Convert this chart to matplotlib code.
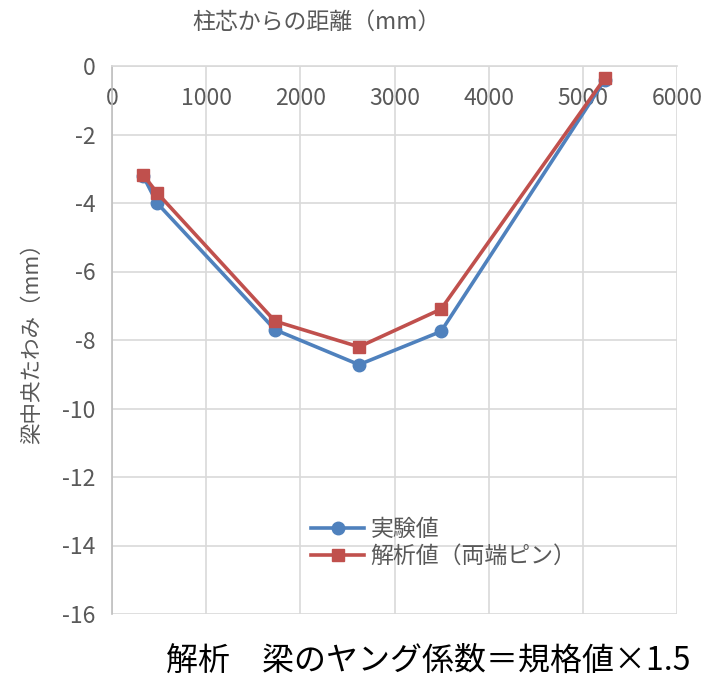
import matplotlib
matplotlib.use("Agg")
import matplotlib.pyplot as plt

plt.rcParams['font.family'] = ['Noto Sans CJK JP', 'DejaVu Sans']

# Data
x_exp = [329, 478, 1731, 2623, 3494, 5235]
y_exp = [-3.2, -4.0, -7.7, -8.72, -7.75, -0.4]
x_ana = [329, 478, 1731, 2623, 3494, 5235]
y_ana = [-3.17, -3.7, -7.45, -8.2, -7.1, -0.35]
label_exp = "実験値"
label_ana = "解析値（両端ピン）"
xticks = [0, 1000, 2000, 3000, 4000, 5000, 6000]
yticks = [0, -2, -4, -6, -8, -10, -12, -14, -16]
xlabel = "柱芯からの距離（mm）"
ylabel = "梁中央たわみ（mm）"
note = "解析　梁のヤング係数＝規格値×1.5"

blue = "#4f81bd"
red = "#c0504d"
grid_c = "#d9d9d9"
text_c = "#595959"

fig = plt.figure(figsize=(7.03, 6.79), dpi=100)
ax = fig.add_axes([112/703, 1-614/679, (677-112)/703, (614-66)/679])

ax.plot(x_exp, y_exp, color=blue, lw=2.6, marker='o', ms=9, label=label_exp, zorder=3)
ax.plot(x_ana, y_ana, color=red, lw=2.6, marker='s', ms=9, label=label_ana, zorder=4)

ax.set_xlim(0, 6000)
ax.set_ylim(-16, 0)
ax.set_xticks(xticks)
ax.set_yticks(yticks)
ax.set_yticklabels([str(v) for v in yticks])
ax.grid(True, color=grid_c, lw=1.2)
ax.set_axisbelow(True)
for s in ['right', 'bottom']:
    ax.spines[s].set_visible(False)
ax.spines['top'].set_color(grid_c)
ax.spines['top'].set_linewidth(1.2)
ax.spines['left'].set_color('#bfbfbf')
ax.spines['left'].set_linewidth(1.2)

ax.xaxis.set_ticks_position('top')
ax.tick_params(axis='x', length=0, pad=-32, labelsize=16.5, labelcolor=text_c)
ax.tick_params(axis='y', length=0, pad=12, labelsize=16.5, labelcolor=text_c)

fig.text(317/703, 1-22/679, xlabel, ha='center', va='center', fontsize=16.5, color=text_c)
fig.text(32/703, 1-338/679, ylabel, ha='center', va='center', rotation=90, fontsize=15.5, color=text_c)
fig.text(690/703, 1-661/679, note, ha='right', va='center', fontsize=23, color='black')

leg = ax.legend(loc='upper left', frameon=False,
                fontsize=16.5, labelcolor=text_c, handlelength=2.3, handletextpad=0.3,
                labelspacing=0.15, borderaxespad=0)
leg.set_bbox_to_anchor(((302-112)/565, (614-509)/548), transform=ax.transAxes)

fig.savefig("out.png", dpi=100)
